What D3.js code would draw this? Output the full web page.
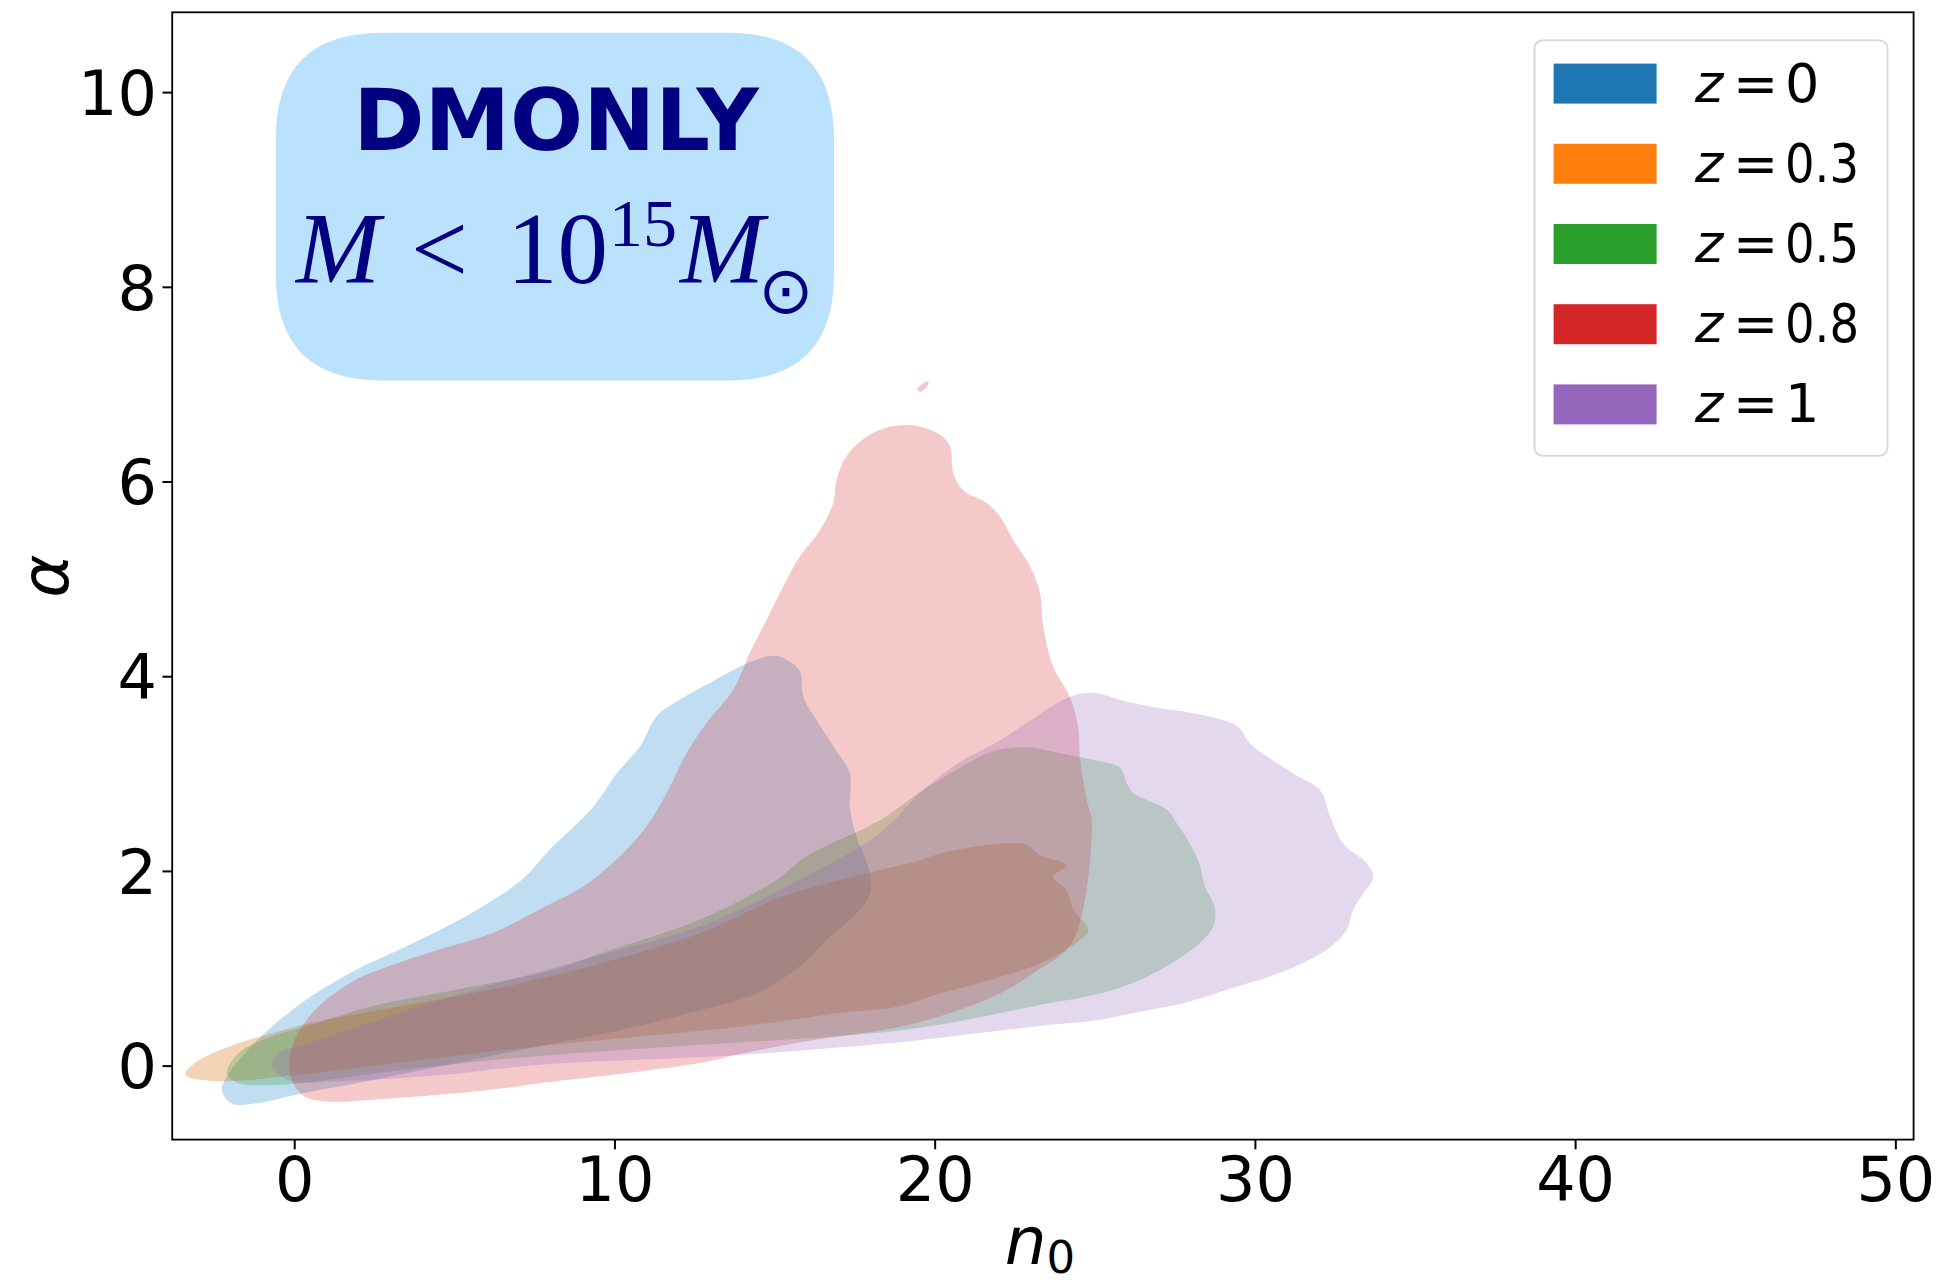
<!DOCTYPE html>
<html>
<head>
<meta charset="utf-8">
<script src="https://cdn.jsdelivr.net/npm/d3@7"></script>
<style>
  html, body { margin: 0; padding: 0; background: #ffffff; }
  svg { display: block; }
</style>
</head>
<body>
<svg id="chart" width="1936" height="1286"></svg>
<script>
// Redshift bins shown in the legend
const redshifts = ["0", "0.3", "0.5", "0.8", "1"];
const xTickValues = [0, 10, 20, 30, 40, 50];
const yTickValues = [0, 2, 4, 6, 8, 10];

// Outer KDE contour of each bin, as [n0, alpha] vertices
const contourZ0 = [
  [-2.26, -0.25], [-2.1, -0.11], [-1.53, 0.13], [-0.70, 0.40], [0.34, 0.67], [1.91, 0.98],
  [3.47, 1.22], [5.55, 1.57], [7.11, 1.91], [7.98, 2.22], [9.34, 2.66], [10.07, 3.00],
  [10.80, 3.28], [11.32, 3.59], [12.05, 3.76], [13.09, 3.95], [14.13, 4.13], [14.96, 4.21],
  [15.38, 4.17], [15.79, 4.05], [15.9, 3.79], [16.31, 3.55], [16.83, 3.28], [17.35, 3.00],
  [17.35, 2.66], [17.56, 2.35], [17.98, 1.98], [17.98, 1.77], [17.67, 1.60], [16.63, 1.29],
  [15.79, 1.02], [14.44, 0.74], [12.36, 0.54], [10.27, 0.37], [7.67, 0.20], [5.55, 0.06],
  [2.43, -0.15], [0.34, -0.28], [-1.22, -0.39], [-1.95, -0.39]
];
const contourZ03 = [
  [-3.40, -0.08], [-3.2, 0.0], [-2.78, 0.09], [-1.74, 0.23], [-0.70, 0.33], [0.55, 0.44],
  [2.5, 0.56], [4.5, 0.68], [6.42, 0.80], [9.55, 1.05], [12.67, 1.36], [15.27, 1.74],
  [18.29, 2.01], [19.55, 2.11], [20.17, 2.18], [22.04, 2.28], [22.87, 2.27], [23.29, 2.16],
  [24.12, 2.06], [23.70, 1.94], [24.12, 1.80], [24.33, 1.60], [24.80, 1.39], [24.54, 1.29],
  [23.29, 1.05], [21.73, 0.88], [20.17, 0.74], [18.92, 0.61], [17.04, 0.54], [13.92, 0.40],
  [10.80, 0.30], [7.67, 0.20], [3.0, 0.02], [0.0, -0.10], [-1.5, -0.15], [-2.26, -0.16],
  [-2.78, -0.15], [-3.30, -0.12]
];
const contourZ05 = [
  [-2.1, -0.08], [-1.74, 0.13], [-0.70, 0.30], [0.55, 0.42], [2.43, 0.61], [5.55, 0.81],
  [8.05, 0.98], [9.55, 1.15], [12.67, 1.50], [15.07, 1.91], [16.0, 2.15], [18.29, 2.52],
  [19.64, 2.83], [20.79, 3.06], [21.83, 3.23], [22.87, 3.27], [23.90, 3.21], [24.95, 3.14],
  [25.79, 3.06], [26.0, 2.90], [26.2, 2.80], [27.24, 2.63], [27.56, 2.49], [27.97, 2.28],
  [28.28, 2.06], [28.44, 1.84], [28.75, 1.62], [28.70, 1.43], [28.28, 1.26], [27.24, 1.02],
  [26.2, 0.85], [25.16, 0.74], [23.08, 0.61], [21.0, 0.47], [18.92, 0.36], [16.0, 0.28],
  [12.0, 0.20], [7.67, 0.10], [3.0, -0.06], [0.5, -0.17], [-0.70, -0.20], [-1.74, -0.18]
];
const contourZ08 = [
  [-0.07, -0.15], [-0.12, 0.13], [0.24, 0.40], [0.87, 0.64], [1.91, 0.88], [2.95, 1.02],
  [4.51, 1.19], [6.17, 1.36], [8.05, 1.67], [9.03, 1.84], [10.17, 2.15], [11.01, 2.46],
  [11.63, 2.80], [12.25, 3.21], [12.88, 3.52], [13.71, 3.86], [14.23, 4.24], [14.75, 4.58],
  [15.38, 4.99], [15.79, 5.23], [16.42, 5.50], [16.83, 5.78], [16.94, 6.02], [17.25, 6.26],
  [18.08, 6.50], [19.18, 6.58], [20.17, 6.48], [20.48, 6.36], [20.58, 6.09], [20.89, 5.91],
  [21.62, 5.78], [22.04, 5.64], [22.45, 5.40], [22.98, 5.13], [23.29, 4.85], [23.39, 4.51],
  [23.70, 4.10], [24.22, 3.79], [24.48, 3.48], [24.54, 3.14], [24.75, 2.73], [24.90, 2.52],
  [24.85, 2.11], [24.69, 1.70], [24.43, 1.36], [24.12, 1.19], [23.08, 0.95], [22.04, 0.74],
  [20.48, 0.54], [18.92, 0.40], [16.0, 0.25], [13.92, 0.12], [12.88, 0.04], [10.80, -0.06],
  [7.67, -0.18], [6.59, -0.23], [4.51, -0.30], [2.43, -0.35], [1.18, -0.37], [0.34, -0.32]
];
const contourZ08Island = [
  [19.45, 6.95], [19.6, 7.0], [19.8, 7.03], [19.78, 6.98], [19.55, 6.92]
];
const contourZ1 = [
  [-0.70, -0.01], [-0.49, 0.13], [0.34, 0.22], [2.0, 0.40], [4.0, 0.62], [6.42, 0.85],
  [9.5, 1.13], [12.67, 1.43], [15.38, 1.84], [18.29, 2.39], [19.64, 2.83], [20.79, 3.12],
  [21.83, 3.30], [22.87, 3.52], [24.22, 3.79], [24.95, 3.83], [26.0, 3.74], [27.04, 3.67],
  [28.08, 3.62], [29.43, 3.49], [29.85, 3.31], [31.20, 3.00], [32.03, 2.83], [32.35, 2.56],
  [32.76, 2.28], [33.49, 2.08], [33.70, 1.94], [33.39, 1.77], [33.07, 1.60], [32.86, 1.39],
  [32.24, 1.19], [30.99, 0.98], [29.33, 0.80], [27.76, 0.64], [26.20, 0.54], [25.16, 0.47],
  [23.08, 0.40], [21.0, 0.32], [18.92, 0.24], [16.0, 0.16], [13.92, 0.11], [10.80, 0.06],
  [7.67, 0.01], [4.51, -0.10], [1.39, -0.16], [-0.18, -0.15]
];

const seriesRings = [
  [contourZ0],
  [contourZ03],
  [contourZ05],
  [contourZ08, contourZ08Island],
  [contourZ1]
];

// Legend swatch colours and the slightly lighter tints used for the filled regions
const palette = ["#1f77b4", "#ff7f0e", "#2ca02c", "#d62728", "#9467bd"];
const fillColors = ["#1a82cc", "#d26904", "#2ca02c", "#d62728", "#9467bd"];
const fillOpacities = [0.27, 0.29, 0.26, 0.25, 0.26];

const svg = d3.select("#chart");
const plot = { left: 172.2, right: 1913.6, top: 12.3, bottom: 1139.6 };

const x = d3.scaleLinear().domain([-3.81, 50.57]).range([plot.left, plot.right]);
const y = d3.scaleLinear().domain([-0.76, 10.82]).range([plot.bottom, plot.top]);

svg.append("defs").append("clipPath").attr("id", "plot-clip")
  .append("rect")
  .attr("x", plot.left).attr("y", plot.top)
  .attr("width", plot.right - plot.left).attr("height", plot.bottom - plot.top);

// Filled contours
const ring = d3.line()
  .x(d => x(d[0]))
  .y(d => y(d[1]))
  .curve(d3.curveCatmullRomClosed.alpha(0.5));

const contours = svg.append("g").attr("clip-path", "url(#plot-clip)");
seriesRings.forEach((rings, i) => {
  contours.append("path")
    .attr("d", rings.map(r => ring(r)).join(""))
    .attr("fill", fillColors[i])
    .attr("fill-opacity", fillOpacities[i])
    .attr("stroke", "none");
});

// Annotation box
const box = { x0: 275.8, y0: 32.8, x1: 834, y1: 380.5, r: 106 };
const boxPath = d3.path();
boxPath.moveTo(box.x0 + box.r, box.y0);
boxPath.lineTo(box.x1 - box.r, box.y0);
boxPath.quadraticCurveTo(box.x1, box.y0, box.x1, box.y0 + box.r);
boxPath.lineTo(box.x1, box.y1 - box.r);
boxPath.quadraticCurveTo(box.x1, box.y1, box.x1 - box.r, box.y1);
boxPath.lineTo(box.x0 + box.r, box.y1);
boxPath.quadraticCurveTo(box.x0, box.y1, box.x0, box.y1 - box.r);
boxPath.lineTo(box.x0, box.y0 + box.r);
boxPath.quadraticCurveTo(box.x0, box.y0, box.x0 + box.r, box.y0);
boxPath.closePath();
svg.append("path").attr("d", boxPath.toString()).attr("fill", "#bae2fc");

const navy = "#000080";
svg.append("text")
  .attr("x", 556).attr("y", 150)
  .attr("text-anchor", "middle")
  .attr("font-family", "DejaVu Sans")
  .attr("font-weight", "bold")
  .attr("font-size", 86)
  .attr("fill", navy)
  .text("DMONLY");

const serif = "Liberation Serif, DejaVu Serif, serif";
const mathLine = svg.append("g").attr("fill", navy).attr("font-family", serif);
mathLine.append("text").attr("x", 296).attr("y", 283).attr("font-size", 101)
  .attr("font-style", "italic").text("M");
mathLine.append("text").attr("x", 411).attr("y", 283).attr("font-size", 101).text("<");
mathLine.append("text").attr("x", 507).attr("y", 283).attr("font-size", 101).text("10");
mathLine.append("text").attr("x", 609).attr("y", 246).attr("font-size", 68).text("15");
mathLine.append("text").attr("x", 680).attr("y", 283).attr("font-size", 101)
  .attr("font-style", "italic").text("M");
mathLine.append("text").attr("x", 786).attr("y", 313).attr("font-size", 66)
  .attr("text-anchor", "middle").attr("font-family", "DejaVu Sans").text("\u2299");

// Axes
const tickFont = 62;
const xAxis = svg.append("g")
  .attr("transform", `translate(0,${plot.bottom})`)
  .call(d3.axisBottom(x).tickValues(xTickValues).tickFormat(d3.format("d"))
    .tickSize(9.7).tickSizeOuter(0).tickPadding(8));
const yAxis = svg.append("g")
  .attr("transform", `translate(${plot.left},0)`)
  .call(d3.axisLeft(y).tickValues(yTickValues).tickFormat(d3.format("d"))
    .tickSize(9.7).tickSizeOuter(0).tickPadding(5.5));

[xAxis, yAxis].forEach(g => {
  g.select(".domain").remove();
  g.selectAll(".tick line").attr("stroke", "#000").attr("stroke-width", 2);
  g.selectAll(".tick text")
    .attr("fill", "#000")
    .attr("font-family", "DejaVu Sans")
    .attr("font-size", tickFont);
});
yAxis.selectAll(".tick text").attr("dy", "0.36em");

// Frame
svg.append("rect")
  .attr("x", plot.left).attr("y", plot.top)
  .attr("width", plot.right - plot.left).attr("height", plot.bottom - plot.top)
  .attr("fill", "none").attr("stroke", "#000").attr("stroke-width", 1.8);

// Axis labels
const xLabel = svg.append("text")
  .attr("x", 1040).attr("y", 1264)
  .attr("text-anchor", "middle")
  .attr("font-family", "DejaVu Sans")
  .attr("font-size", 66)
  .attr("fill", "#000");
xLabel.append("tspan").attr("font-style", "italic").text("n");
xLabel.append("tspan").attr("font-size", 45).attr("dy", 9).text("0");

svg.append("text")
  .attr("transform", "translate(68,576) rotate(-90)")
  .attr("text-anchor", "middle")
  .attr("font-family", "DejaVu Sans")
  .attr("font-style", "italic")
  .attr("font-size", 66)
  .attr("fill", "#000")
  .text("\u03b1");

// Legend
const legend = svg.append("g");
legend.append("rect")
  .attr("x", 1534.5).attr("y", 40.3)
  .attr("width", 353).attr("height", 415.5)
  .attr("rx", 8).attr("ry", 8)
  .attr("fill", "#ffffff").attr("fill-opacity", 0.8)
  .attr("stroke", "#d6d6d6").attr("stroke-width", 1.8);

const rowStep = 80.2;
redshifts.forEach((label, i) => {
  const top = 63.6 + i * rowStep;
  legend.append("rect")
    .attr("x", 1553.6).attr("y", top)
    .attr("width", 103).attr("height", 40)
    .attr("fill", palette[i]);
  const t = legend.append("g")
    .attr("font-family", "DejaVu Sans")
    .attr("font-size", 54)
    .attr("fill", "#000");
  t.append("text").attr("x", 1695).attr("y", top + 38).attr("font-style", "italic").text("z");
  t.append("text").attr("x", 1733).attr("y", top + 38).text("=");
  t.append("text").attr("x", 1785).attr("y", top + 38)
    .attr("textLength", label.length > 1 ? 74 : null)
    .attr("lengthAdjust", "spacingAndGlyphs")
    .text(label);
});
</script>
</body>
</html>
